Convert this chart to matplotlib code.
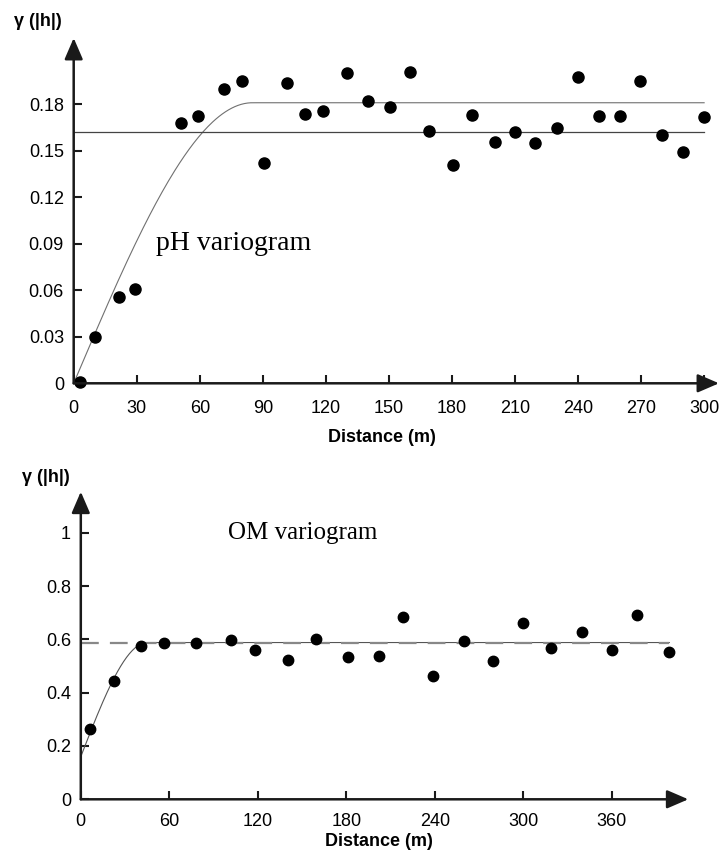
import numpy as np
import matplotlib
matplotlib.use("Agg")
import matplotlib.pyplot as plt
from matplotlib.ticker import FuncFormatter

plt.rcParams['font.family'] = ['Liberation Sans', 'DejaVu Sans']

# pH variogram - experimental points
ph_dist = [3, 10, 21.6, 29.2, 50.9, 59, 71.7, 80.2, 90.7, 101.5, 110, 118.5, 129.9,
           140.2, 150.5, 159.9, 169.2, 180.6, 189.4, 200.6, 210, 219.5, 230.1,
           239.8, 250.1, 259.8, 269.5, 279.8, 289.8, 299.8]
ph_gamma = [0.001, 0.030, 0.056, 0.061, 0.168, 0.1725, 0.190, 0.195, 0.142, 0.194,
            0.174, 0.176, 0.2005, 0.182, 0.178, 0.201, 0.163, 0.141, 0.173, 0.156,
            0.162, 0.155, 0.1645, 0.1975, 0.1725, 0.1725, 0.195, 0.160, 0.149, 0.172]
ph_variance = 0.162
ph_model = dict(nugget=0.0, sill=0.181, rng=85.0)
ph_yticks = [0, 0.03, 0.06, 0.09, 0.12, 0.15, 0.18]
ph_xticks = [0, 30, 60, 90, 120, 150, 180, 210, 240, 270, 300]

# OM variogram - experimental points
om_dist = [5.9, 22.7, 40.6, 56.6, 78.1, 101.8, 118.3, 140.7, 159.3, 181, 202,
           218.2, 239, 259.8, 279.5, 300, 319, 339.6, 360.1, 377.3, 398.8]
om_gamma = [0.265, 0.445, 0.575, 0.587, 0.585, 0.597, 0.561, 0.5225, 0.600, 0.533,
            0.536, 0.684, 0.464, 0.593, 0.520, 0.662, 0.569, 0.626, 0.559, 0.691, 0.554]
om_variance = 0.588
om_model = dict(nugget=0.16, sill=0.588, rng=45.0)
om_yticks = [0, 0.2, 0.4, 0.6, 0.8, 1.0]
om_xticks = [0, 60, 120, 180, 240, 300, 360]


def spherical(h, nugget, sill, rng):
    r = np.clip(h / rng, 0, 1)
    return nugget + (sill - nugget) * (1.5 * r - 0.5 * r ** 3)


def draw_axes(ax, xpad):
    for s in ax.spines.values():
        s.set_visible(False)
    arrow = dict(arrowstyle='-|>,head_length=0.65,head_width=0.28', lw=1.8,
                 color='#1a1a1a', shrinkA=0, shrinkB=0, mutation_scale=20)
    for tip in [(1, 0), (0, 1)]:
        a = ax.annotate('', xy=tip, xytext=(0, 0), xycoords='axes fraction',
                        arrowprops=arrow, annotation_clip=False)
        a.set_zorder(5)
    ax.tick_params(direction='in', length=6, width=1.5, color='#1a1a1a',
                   labelsize=13, pad=7)
    ax.tick_params(axis='x', pad=xpad)


W, H = 721, 850
fig = plt.figure(figsize=(W / 100, H / 100), dpi=100)


# text placed in pixel coords (origin top-left, as in the reference)
def ftext(x, y, s, ha='center', **kw):
    fig.text(x / W, 1 - y / H, s, ha=ha, va='center', **kw)


# ---- top: pH ----
ax1 = fig.add_axes([73.7 / W, 1 - 383.3 / H, (719 - 73.7) / W, (383.3 - 38) / H])
ax1.set_xlim(0, (719 - 73.7) / 2.1014)
ax1.set_ylim(0, (383.3 - 38) / 1550)
draw_axes(ax1, 12)
h = np.linspace(0, 300, 400)
ax1.plot(h, spherical(h, **ph_model), color='#707070', lw=0.8)
ax1.plot([0, 300], [ph_variance, ph_variance], color='#444444', lw=0.9)
ax1.plot(ph_dist, ph_gamma, 'o', color='black', ms=8, clip_on=False)
ax1.set_xticks(ph_xticks)
ax1.set_yticks(ph_yticks)
ax1.yaxis.set_major_formatter(FuncFormatter(lambda v, p: '0' if v == 0 else f'{v:.2f}'))
ftext(156, 244, 'pH variogram', ha='left', fontsize=20, family='Liberation Serif')

# ---- bottom: OM ----
ax2 = fig.add_axes([80.8 / W, 1 - 799.3 / H, (688.3 - 80.8) / W, (799.3 - 491.7) / H])
ax2.set_xlim(0, (688.3 - 80.8) / 1.475)
ax2.set_ylim(0, (799.3 - 491.7) / 266.6)
draw_axes(ax2, 10)
h = np.linspace(0, 399, 400)
ax2.plot(h, spherical(h, **om_model), color='#555555', lw=0.8)
ax2.plot([0, 399], [om_variance, om_variance], color='#888888', lw=1.6,
         dashes=(8, 5))
ax2.plot(om_dist, om_gamma, 'o', color='black', ms=7.5, clip_on=False)
ax2.set_xticks(om_xticks)
ax2.set_yticks(om_yticks)
ax2.yaxis.set_major_formatter(FuncFormatter(lambda v, p: f'{v:g}'))
ftext(228, 533, 'OM variogram', ha='left', fontsize=18, family='Liberation Serif')

ftext(382, 437, 'Distance (m)', fontsize=13, fontweight='bold')
ftext(379, 842, 'Distance (m)', fontsize=13, fontweight='bold')
ftext(38, 21, 'γ (|h|)', fontsize=13, fontweight='bold')
ftext(46, 477, 'γ (|h|)', fontsize=13, fontweight='bold')

fig.savefig('out.png', dpi=100)
